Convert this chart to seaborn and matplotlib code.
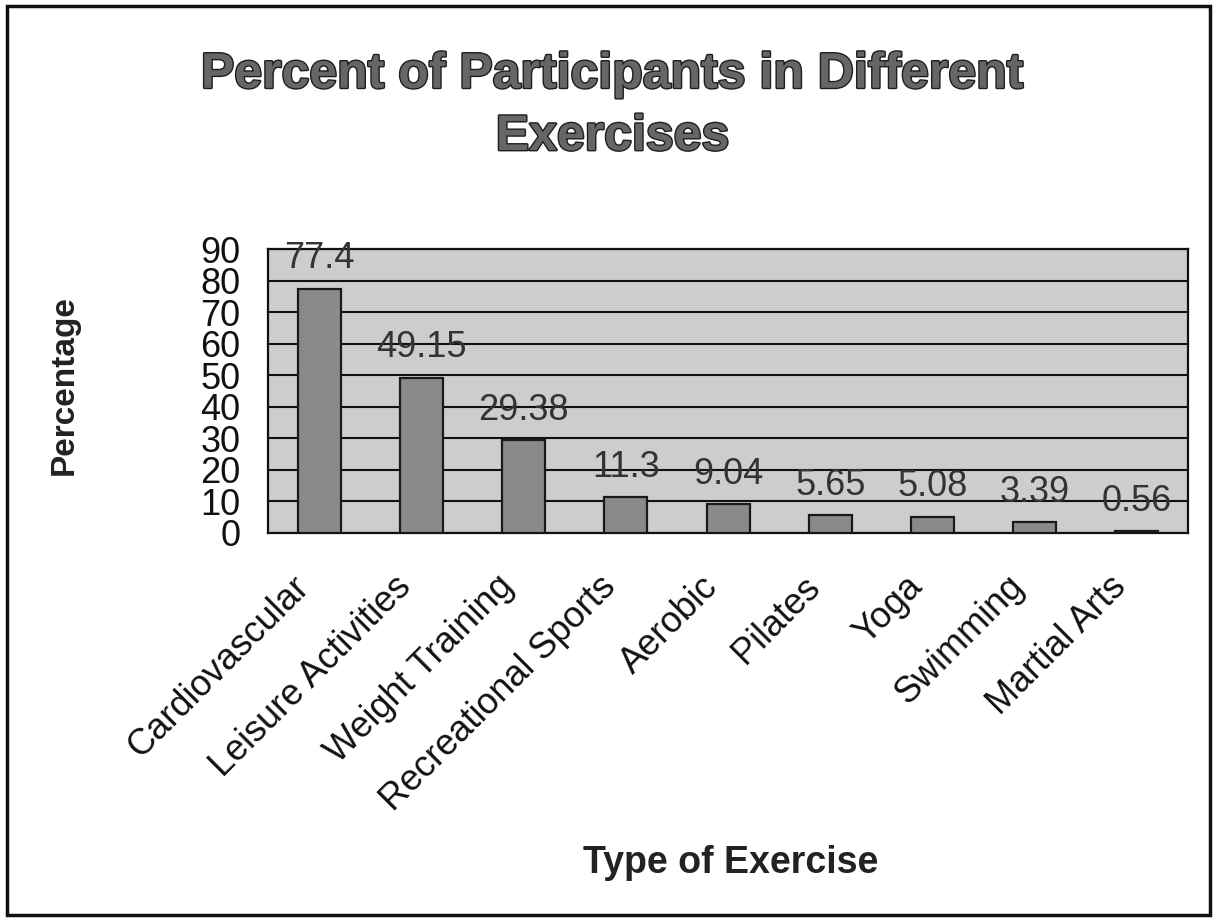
import matplotlib
matplotlib.use('Agg')
import matplotlib.pyplot as plt
import matplotlib.patheffects as pe
import matplotlib.transforms as mtransforms
from matplotlib.patches import Rectangle
import numpy as np
import pandas as pd
import seaborn as sns

# Chart data
exercises = ['Cardiovascular', 'Leisure Activities', 'Weight Training', 'Recreational Sports',
             'Aerobic', 'Pilates', 'Yoga', 'Swimming', 'Martial Arts']
percentages = [77.4, 49.15, 29.38, 11.3, 9.04, 5.65, 5.08, 3.39, 0.56]
value_labels = ['77.4', '49.15', '29.38', '11.3', '9.04', '5.65', '5.08', '3.39', '0.56']
y_ticks = [0, 10, 20, 30, 40, 50, 60, 70, 80, 90]


def plot_exercises(df):
    fig = plt.figure(figsize=(12.2, 9.21), dpi=100)
    ax = fig.add_axes([0.2197, 0.4213, 0.7541, 0.3083])
    ax.set_facecolor('#cdcdcd')

    sns.barplot(data=df, x='exercise', y='percent', color='#8a8a8a', edgecolor='#1a1a1a',
                linewidth=1.6, width=0.42, saturation=1, ax=ax, zorder=3)

    # value labels above bars
    ax.bar_label(ax.containers[0], labels=value_labels, padding=9, fontsize=26,
                 color='#333333', zorder=5)

    ax.set_ylim(0, 90)
    ax.set_xlim(-0.5, len(exercises) - 0.5)
    ax.set_yticks(y_ticks)
    ax.set_yticklabels([str(t) for t in y_ticks], fontsize=26, color='#111111')
    ax.yaxis.grid(True, color='#111111', linewidth=1.5, zorder=1)
    ax.set_axisbelow(True)

    # category labels on major ticks, tick marks between categories
    ax.set_xticks(range(len(exercises)))
    ax.set_xticklabels(exercises, rotation=45, ha='right', va='top',
                       rotation_mode='anchor', fontsize=26, color='#111111')
    ax.tick_params(axis='x', which='major', length=0, pad=26)
    shift = mtransforms.ScaledTranslation(-0.28, 0, fig.dpi_scale_trans)
    for lbl in ax.get_xticklabels():
        lbl.set_transform(lbl.get_transform() + shift)
    ax.set_xticks(np.arange(-0.5, len(exercises), 1), minor=True)
    ax.tick_params(axis='x', which='minor', length=8, width=1.5, direction='out', color='#111111')
    ax.tick_params(axis='y', length=8, width=1.5, direction='out', pad=12, color='#111111')

    for side in ['left', 'right', 'top', 'bottom']:
        ax.spines[side].set_visible(True)
        ax.spines[side].set_color('#111111')
        ax.spines[side].set_linewidth(1.6)

    ax.set_xlabel('')
    ax.set_ylabel('')

    fig.text(0.502, 0.885, 'Percent of Participants in Different\nExercises', ha='center', va='center',
             fontsize=36, fontweight='bold', color='#666666', linespacing=1.45,
             path_effects=[pe.withStroke(linewidth=2, foreground='#1e1e1e')])
    fig.text(0.053, 0.582, 'Percentage', rotation=90, ha='center', va='center',
             fontsize=24, fontweight='bold', color='#222222')
    fig.text(0.599, 0.063, 'Type of Exercise', ha='center', va='center',
             fontsize=27, fontweight='bold', color='#222222')

    # outer border round the whole chart
    fig.patches.append(Rectangle((0.0057, 0.0065), 0.986, 0.987, transform=fig.transFigure,
                                 fill=False, edgecolor='#111111', linewidth=2.5))

    fig.savefig('out.png', dpi=100, facecolor='white')


if __name__ == '__main__':
    sns.set_style('white')
    plt.rcParams['font.family'] = ['Liberation Sans', 'DejaVu Sans']
    data = pd.DataFrame({'exercise': exercises, 'percent': percentages})
    plot_exercises(data)
